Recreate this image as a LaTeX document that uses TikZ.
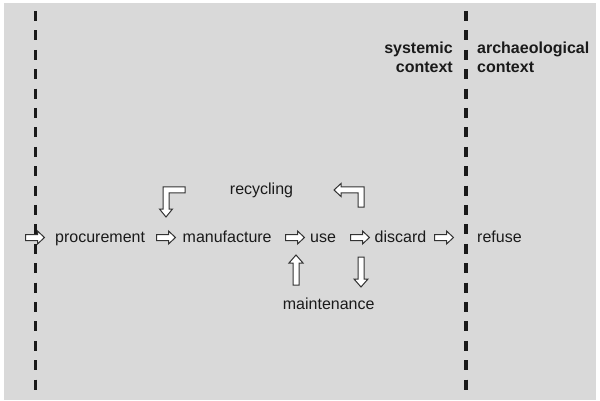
\documentclass[tikz,border=0pt]{standalone}
\usepackage{fontspec}
\setmainfont{Liberation Sans}
\definecolor{bg}{HTML}{D9D9D9}
\definecolor{txt}{HTML}{1A1A1A}
\definecolor{arrline}{HTML}{333333}
\definecolor{divline}{HTML}{1A1A1A}
\begin{document}
\begin{tikzpicture}[x=1pt,y=-1pt,
  lbl/.style={font=\fontsize{16}{19}\selectfont, text=txt, inner sep=0pt},
  blbl/.style={font=\fontsize{16}{19}\selectfont\bfseries, text=txt, inner sep=0pt},
  barrow/.style={draw=arrline, fill=white, line width=1pt, line join=miter},
  divider/.style={draw=divline, line width=3.4pt, dash pattern=on 10pt off 9.4pt},
  pics/harrow/.style={code={\path[barrow] (-9.5,-3) -- (2.5,-3) -- (2.5,-6.5) -- (9.5,0) -- (2.5,6.5) -- (2.5,3) -- (-9.5,3) -- cycle;}},
  pics/uparrow/.style={code={\path[barrow] (0,-15) -- (7,-7) -- (3,-7) -- (3,15) -- (-3,15) -- (-3,-7) -- (-7,-7) -- cycle;}},
  pics/downarrow/.style={code={\path[barrow] (0,15) -- (7,7) -- (3,7) -- (3,-15) -- (-3,-15) -- (-3,7) -- (-7,7) -- cycle;}},
]
\useasboundingbox (0,0) rectangle (600,401);
\fill[white] (0,0) rectangle (600,401);
\fill[bg] (4,3.5) rectangle (596,399.5);

% labels
\node[lbl, anchor=base west] (proc) at (55,242) {procurement};
\node[lbl, anchor=base west] (manu) at (182.5,242) {manufacture};
\node[lbl, anchor=base west] (use) at (310,242) {use};
\node[lbl, anchor=base west] (disc) at (374.5,242) {discard};
\node[lbl, anchor=base west] (refu) at (477,242) {refuse};
\node[lbl, anchor=base] (recy) at (261.5,195) {recycling};
\node[lbl, anchor=base] (main) at (328.7,309) {maintenance};
\node[blbl, anchor=base east] (sys1) at (453,54) {systemic};
\node[blbl, anchor=base east] (sys2) at (453,73) {context};
\node[blbl, anchor=base west] (arc1) at (477,54) {archaeological};
\node[blbl, anchor=base west] (arc2) at (477,73) {context};

% horizontal block arrows
\pic at (35,237.5) {harrow};
\pic at (166,237.5) {harrow};
\pic at (295,237.5) {harrow};
\pic at (360,237.5) {harrow};
\pic at (444,237.5) {harrow};

% vertical block arrows
\pic at (296,270) {uparrow};
\pic at (361,272) {downarrow};

% corner arrows
\path[barrow] (185,187) -- (163,187) -- (163,209) -- (159.5,209) -- (166,217) -- (172.5,209) -- (169,209) -- (169,193) -- (185,193) -- cycle;
\path[barrow] (334,190) -- (341,183.5) -- (341,187) -- (364,187) -- (364,207) -- (358,207) -- (358,193) -- (341,193) -- (341,196.5) -- cycle;

% dividers
\coordinate (l1) at (35.3,11);
\coordinate (l2) at (35.3,390);
\coordinate (r1) at (466,11);
\coordinate (r2) at (466,390);
\draw[divider] (l1) -- (l2);
\draw[divider] (r1) -- (r2);
\end{tikzpicture}
\end{document}
